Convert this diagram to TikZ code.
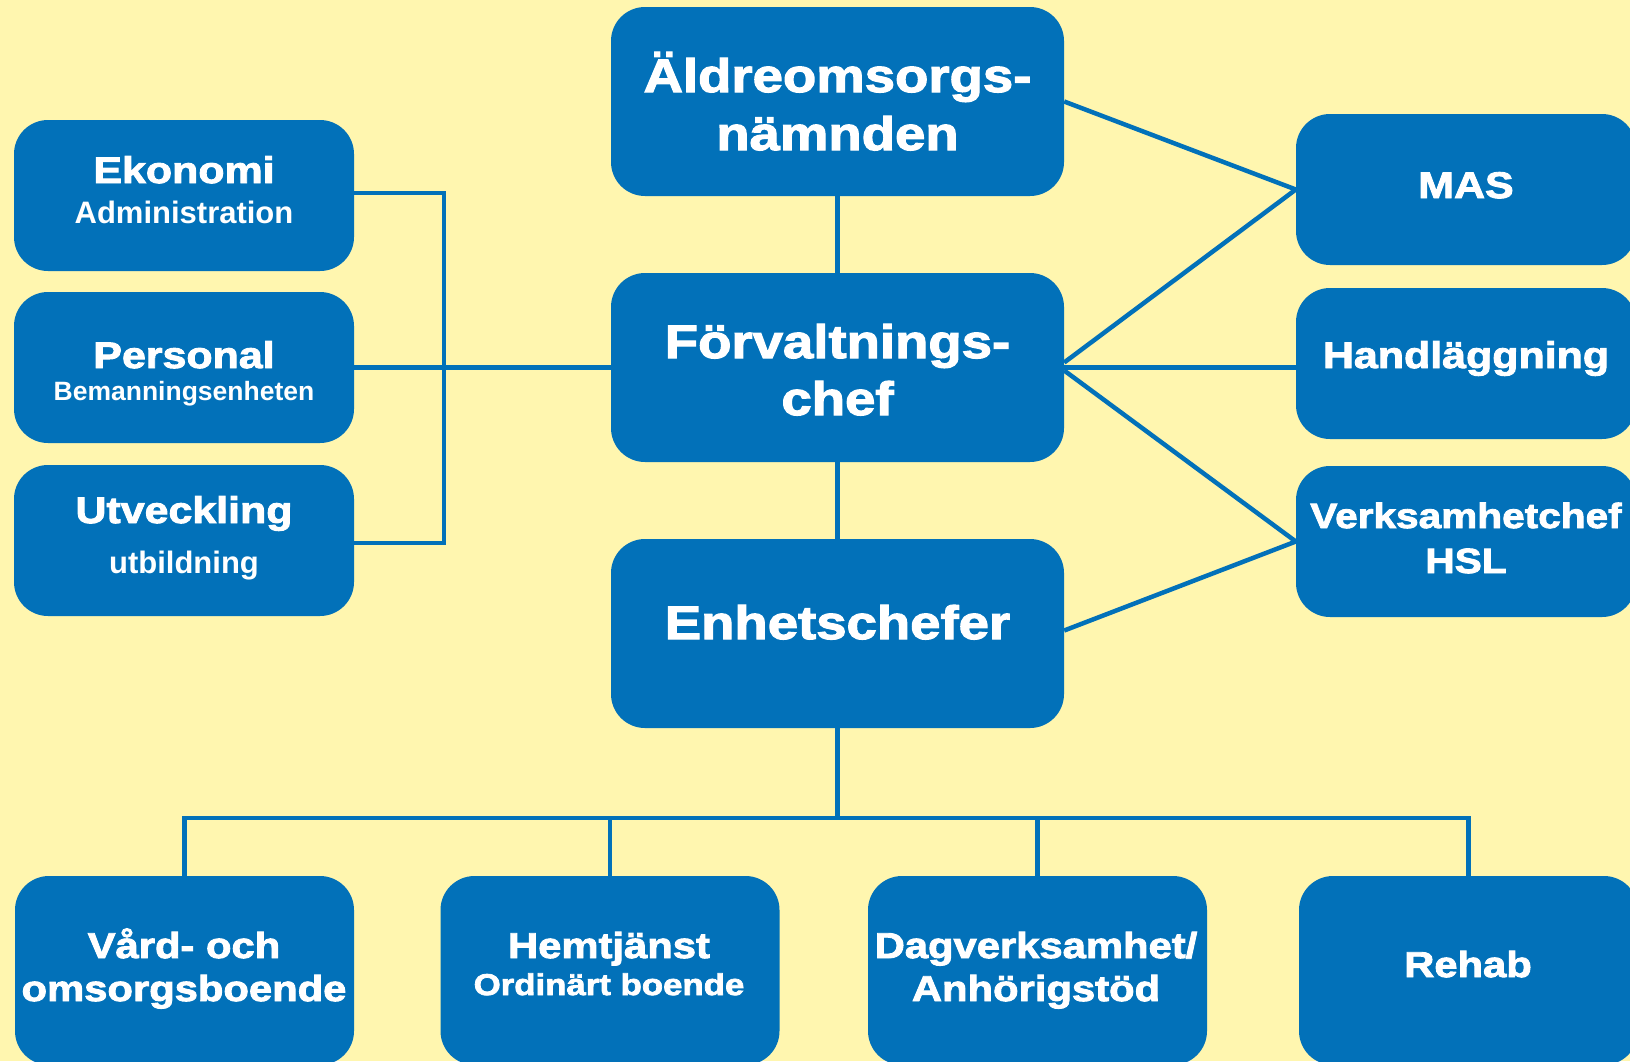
\documentclass[tikz,border=0pt]{standalone}
\usepackage{fontspec}
\setmainfont{Liberation Sans}
\newfontfamily\blk{Liberation Sans Bold}[FakeBold=2.5,FakeStretch=1.16]
\newfontfamily\bld{Liberation Sans Bold}
\definecolor{boxblue}{RGB}{2,113,185}
\definecolor{bgyellow}{RGB}{255,246,175}
\begin{document}
\begin{tikzpicture}[x=1pt,y=-1pt,
  box/.style={fill=boxblue, draw=none, rounded corners=34pt, inner sep=0pt},
  small/.style={box, minimum width=340pt, minimum height=151pt},
  big/.style={box, minimum width=453pt, minimum height=189pt},
  low/.style={box, minimum width=339pt, minimum height=189pt},
  link/.style={draw=boxblue, line width=4.5pt},
  t/.style={text=white, anchor=base, inner sep=0pt},
  hA/.style={t, font=\fontsize{47}{47}\selectfont\blk},
  mA/.style={t, font=\fontsize{37}{37}\selectfont\blk},
  vA/.style={t, font=\fontsize{35}{35}\selectfont\blk},
  bA/.style={t, font=\fontsize{36}{36}\selectfont\blk},
  sB/.style={t, font=\fontsize{31}{31}\selectfont\bld}]
\fill[bgyellow] (0,0) rectangle (1630,1061);
\useasboundingbox (0,0) rectangle (1630,1061);
% boxes
\node[small] (ekon) at (184,195.5) {};
\node[small] (pers) at (184,367.5) {};
\node[small] (utv) at (184,540.5) {};
\node[big] (aldre) at (837.5,101.5) {};
\node[big] (forv) at (837.5,367.5) {};
\node[big] (enh) at (837.5,633.5) {};
\node[small] (mas) at (1466,189.5) {};
\node[small] (hand) at (1466,363.5) {};
\node[small] (verk) at (1466,541.5) {};
\node[low] (vard) at (184.5,970.5) {};
\node[low] (hem) at (610,970.5) {};
\node[low] (dag) at (1037.5,970.5) {};
\node[low] (rehab) at (1468.5,970.5) {};
% connectors
\coordinate (brk) at (444,0);
\coordinate (bus) at (0,818);
\draw[link] ([yshift=2.5pt]ekon.east) -- ([yshift=2.5pt]ekon.east -| brk) -- ([yshift=-2.5pt]utv.east -| brk) -- ([yshift=-2.5pt]utv.east);
\draw[link] (pers.east) -- (forv.west);
\draw[link] (aldre.south) -- (forv.north);
\draw[link] (forv.south) -- (enh.north);
\draw[link] (aldre.east) -- (mas.west);
\draw[link] ([yshift=5pt]forv.east) -- (mas.west);
\draw[link] (forv.east) -- (forv.east -| hand.west);
\draw[link] ([yshift=-3pt]forv.east) -- (verk.west);
\draw[link] ([yshift=3pt]enh.east) -- (verk.west);
\draw[link] (enh.south) -- (enh.south |- bus);
\draw[link] (vard.north) -- (vard.north |- bus) -- (rehab.north |- bus) -- (rehab.north);
\draw[link] (hem.north |- bus) -- (hem.north);
\draw[link] (dag.north |- bus) -- (dag.north);
% texts
\node[mA] (ekonA) at (184,183) {Ekonomi};
\node[sB] (ekonB) at (184,223) {Administration};
\node[mA] (persA) at (184,368) {Personal};
\node[t, font=\fontsize{26.5}{26.5}\selectfont\bld] (persB) at (184,400) {Bemanningsenheten};
\node[mA] (utvA) at (184,523) {Utveckling};
\node[sB] (utvB) at (184,573) {utbildning};
\node[hA] (aldreA) at (837.5,92) {Äldreomsorgs-};
\node[hA] (aldreB) at (837.5,150) {nämnden};
\node[hA] (forvA) at (837.5,358) {Förvaltnings-};
\node[hA] (forvB) at (837.5,415) {chef};
\node[hA] (enhA) at (837.5,639) {Enhetschefer};
\node[mA] (masA) at (1466,198) {MAS};
\node[mA] (handA) at (1466,368) {Handläggning};
\node[vA] (verkA) at (1466,528) {Verksamhetchef};
\node[vA] (verkB) at (1466,573) {HSL};
\node[bA] (vardA) at (184,958) {Vård- och};
\node[bA] (vardB) at (184,1001) {omsorgsboende};
\node[bA] (hemA) at (609,958) {Hemtjänst};
\node[t, font=\fontsize{30}{30}\selectfont\blk] (hemB) at (609,995) {Ordinärt boende};
\node[bA] (dagA) at (1036,958) {Dagverksamhet/};
\node[bA] (dagB) at (1036,1001) {Anhörigstöd};
\node[bA] (rehabA) at (1468,977) {Rehab};
\end{tikzpicture}
\end{document}
